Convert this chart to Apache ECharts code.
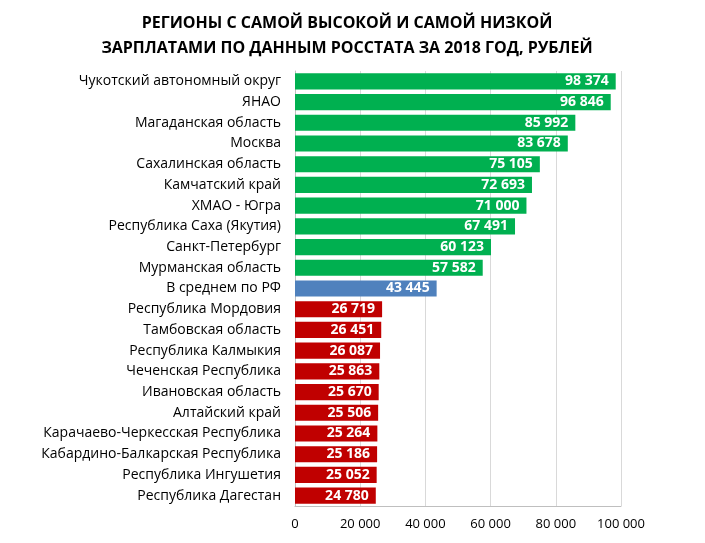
<!DOCTYPE html>
<html>
<head>
<meta charset="utf-8">
<script src="https://cdn.jsdelivr.net/npm/echarts@6/dist/echarts.min.js"></script>
<style>
html,body{margin:0;padding:0;background:#fff;}
#chart{width:705px;height:543px;}
</style>
</head>
<body>
<div id="chart"></div>
<script>
// регионы сверху вниз
const regions = ['Чукотский автономный округ','ЯНАО','Магаданская область','Москва','Сахалинская область',
  'Камчатский край','ХМАО - Югра','Республика Саха (Якутия)','Санкт-Петербург','Мурманская область',
  'В среднем по РФ','Республика Мордовия','Тамбовская область','Республика Калмыкия','Чеченская Республика',
  'Ивановская область','Алтайский край','Карачаево-Черкесская Республика','Кабардино-Балкарская Республика',
  'Республика Ингушетия','Республика Дагестан'];
const salaries = [98374,96846,85992,83678,75105,72693,71000,67491,60123,57582,
  43445,26719,26451,26087,25863,25670,25506,25264,25186,25052,24780];
const groups = ['high','high','high','high','high','high','high','high','high','high',
  'avg','low','low','low','low','low','low','low','low','low','low'];
const groupColors = {high:'#00B050', avg:'#4F81BD', low:'#C00000'};
const xTicks = [0,20000,40000,60000,80000,100000];

function fmt(v){
  return String(v).replace(/\B(?=(\d{3})+(?!\d))/g,' ');
}

const chart = echarts.init(document.getElementById('chart'));
chart.setOption({
  backgroundColor:'#fff',
  title:{
    text:'РЕГИОНЫ С САМОЙ ВЫСОКОЙ И САМОЙ НИЗКОЙ\nЗАРПЛАТАМИ ПО ДАННЫМ РОССТАТА ЗА 2018 ГОД, РУБЛЕЙ',
    left:342, top:6, textAlign:'center',
    textStyle:{fontFamily:'Open Sans',fontSize:16,fontWeight:'bold',color:'#000',lineHeight:25}
  },
  grid:{left:295,right:84,top:71,bottom:37,containLabel:false},
  xAxis:{
    type:'value',min:xTicks[0],max:xTicks[xTicks.length-1],interval:20000,
    axisLine:{show:true,lineStyle:{color:'#bfbfbf'}},
    axisTick:{show:false},
    splitLine:{lineStyle:{color:'#d9d9d9'}},
    axisLabel:{formatter:fmt,color:'#000',fontFamily:'Open Sans',fontSize:13,margin:12}
  },
  yAxis:{
    type:'category',inverse:true,data:regions,
    axisLine:{show:true,lineStyle:{color:'#bfbfbf'}},
    axisTick:{show:false},
    axisLabel:{color:'#000',fontFamily:'Open Sans',fontSize:14,margin:14}
  },
  series:[{
    type:'bar',
    barCategoryGap:'22%',
    data:salaries.map((v,i)=>({value:v,itemStyle:{color:groupColors[groups[i]]}})),
    label:{show:true,position:'insideRight',color:'#fff',fontWeight:'bold',
      fontFamily:'Open Sans',fontSize:14,distance:7,formatter:p=>fmt(p.value)}
  }]
});
</script>
</body>
</html>
